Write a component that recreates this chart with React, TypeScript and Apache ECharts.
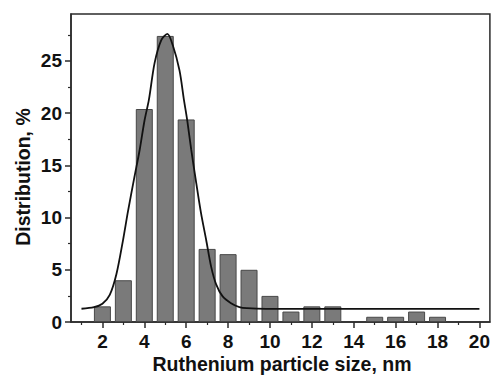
import React, { useEffect, useRef } from "react";
import * as echarts from "echarts";

// Particle-size histogram (nm → % of particles)
const sizes = [2, 3, 4, 5, 6, 7, 8, 9, 10, 11, 12, 13, 15, 16, 17, 18];
const shares = [1.5, 4, 20.4, 27.4, 19.4, 7, 6.5, 5, 2.5, 1, 1.5, 1.5, 0.5, 0.5, 1, 0.5];

// Fitted distribution curve, sampled points
const fitX = [1.0, 1.6, 2.0, 2.35, 2.67, 2.98, 3.22, 3.52, 3.78, 4.01, 4.22, 4.49, 4.81, 5.1, 5.36, 5.68, 5.89, 6.05, 6.24, 6.48, 6.71, 6.95, 7.19, 7.43, 7.74, 8.14, 8.54, 8.9, 9.8, 12, 16, 20];
const fitY = [1.27, 1.42, 1.75, 2.6, 4.6, 7.8, 10.6, 13.8, 16.5, 19.3, 21.3, 24.8, 27.0, 27.6, 26.5, 24.1, 21.3, 19.3, 16.5, 13.3, 10.4, 7.9, 5.3, 3.6, 2.45, 1.8, 1.43, 1.32, 1.25, 1.25, 1.25, 1.25];

// Axis ticks
const xMajor = [2, 4, 6, 8, 10, 12, 14, 16, 18, 20];
const xMinor = [1, 3, 5, 7, 9, 11, 13, 15, 17, 19];
const yMajor = [0, 5, 10, 15, 20, 25];
const yMinor = [2.5, 7.5, 12.5, 17.5, 22.5, 27.5];

const FONT = "'Liberation Sans', Arial, Helvetica, sans-serif";
const AXIS_COLOR = "#2b2b2b";

export default function App() {
  const ref = useRef<HTMLDivElement>(null);

  useEffect(() => {
    if (!ref.current) return;
    const chart = echarts.init(ref.current, undefined, { renderer: "svg" });

    const xRange = { min: 0.5, max: 20.5 };
    const yRange = { min: 0, max: 29.5 };

    const minorAxis = {
      axisLine: { show: false },
      axisLabel: { show: false },
      splitLine: { show: false },
    };

    chart.setOption({
      animation: false,
      backgroundColor: "#ffffff",
      grid: {
        left: 71,
        top: 14,
        right: 3,
        bottom: 55,
        show: true,
        borderColor: AXIS_COLOR,
        borderWidth: 1.5,
        backgroundColor: "transparent",
      },
      xAxis: [
        {
          type: "value",
          ...xRange,
          position: "bottom",
          axisLine: { show: true, lineStyle: { color: AXIS_COLOR, width: 1.5 } },
          axisTick: {
            show: true,
            inside: false,
            length: 6,
            customValues: xMajor,
            lineStyle: { color: AXIS_COLOR, width: 1.5 },
          },
          axisLabel: {
            customValues: xMajor,
            margin: 10,
            color: "#111",
            fontSize: 19,
            fontWeight: "bold",
            fontFamily: FONT,
          },
          splitLine: { show: false },
        },
        {
          type: "value",
          ...xRange,
          position: "bottom",
          ...minorAxis,
          axisTick: {
            show: true,
            inside: false,
            length: 3,
            customValues: xMinor,
            lineStyle: { color: AXIS_COLOR, width: 1.2 },
          },
        },
      ],
      yAxis: [
        {
          type: "value",
          ...yRange,
          position: "left",
          axisLine: { show: true, lineStyle: { color: AXIS_COLOR, width: 1.5 } },
          axisTick: {
            show: true,
            inside: false,
            length: 6,
            customValues: yMajor,
            lineStyle: { color: AXIS_COLOR, width: 1.5 },
          },
          axisLabel: {
            customValues: yMajor,
            margin: 9,
            color: "#111",
            fontSize: 19,
            fontWeight: "bold",
            fontFamily: FONT,
          },
          splitLine: { show: false },
        },
        {
          type: "value",
          ...yRange,
          position: "left",
          ...minorAxis,
          axisTick: {
            show: true,
            inside: false,
            length: 3,
            customValues: yMinor,
            lineStyle: { color: AXIS_COLOR, width: 1.2 },
          },
        },
      ],
      graphic: [
        {
          type: "text",
          x: 23,
          y: 177,
          rotation: Math.PI / 2,
          style: {
            text: "Distribution, %",
            fill: "#111",
            font: `bold 19.5px ${FONT}`,
            textAlign: "center",
            textVerticalAlign: "middle",
          },
        },
        {
          type: "text",
          x: 282,
          y: 364,
          style: {
            text: "Ruthenium particle size, nm",
            fill: "#111",
            font: `bold 19.5px ${FONT}`,
            textAlign: "center",
            textVerticalAlign: "middle",
          },
        },
      ],
      series: [
        {
          type: "bar",
          xAxisIndex: 0,
          yAxisIndex: 0,
          barWidth: 17,
          data: sizes.map((s, i) => [s, shares[i]]),
          itemStyle: { color: "#7a7a7a", borderColor: "#484848", borderWidth: 1 },
        },
        {
          type: "line",
          xAxisIndex: 0,
          yAxisIndex: 0,
          smooth: 0.3,
          symbol: "none",
          data: fitX.map((x, i) => [x, fitY[i]]),
          lineStyle: { color: "#111", width: 1.8 },
        },
      ],
    });

    return () => chart.dispose();
  }, []);

  return (
    <div
      ref={ref}
      style={{ position: "fixed", left: 0, top: 0, width: 493, height: 377 }}
    />
  );
}
